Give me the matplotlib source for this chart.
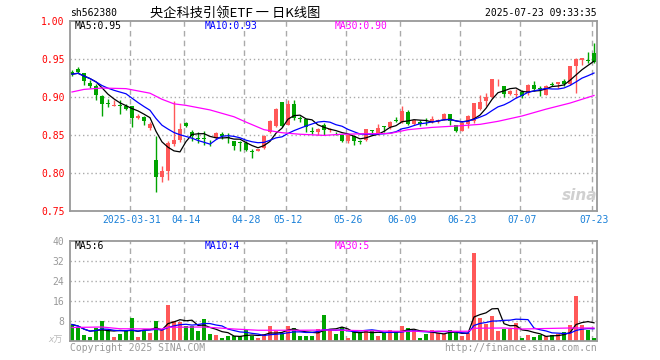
"""
Daily K-line chart for 央企科技引领ETF (sh562380), Sina finance style.
Price candles with MA5/MA10/MA30 on top, volume bars with MAs below.
"""

import numpy as np
import pandas as pd
import matplotlib
matplotlib.use('Agg')
import matplotlib.pyplot as plt

# ---- data ----
HOLIDAYS = ['2025-04-04', '2025-05-01', '2025-05-02', '2025-05-05', '2025-06-02']
DATES = [d for d in pd.bdate_range('2025-03-17', '2025-07-23')
         if d.strftime('%Y-%m-%d') not in HOLIDAYS]

OPEN = [0.9324, 0.9370, 0.9316, 0.9190, 0.9149, 0.9017, 0.8916, 0.8886, 0.8895, 0.8886,
        0.8886, 0.8730, 0.8737, 0.8592, 0.8175, 0.7942, 0.8021, 0.8380, 0.8429, 0.8657,
        0.8539, 0.8452, 0.8450, 0.8410, 0.8460, 0.8517, 0.8470, 0.8416, 0.8405, 0.8394,
        0.8288, 0.8293, 0.8329, 0.8535, 0.8614, 0.8929, 0.8636, 0.8912, 0.8715, 0.8710,
        0.8550, 0.8535, 0.8636, 0.8560, 0.8515, 0.8504, 0.8417, 0.8482, 0.8410, 0.8438,
        0.8556, 0.8517, 0.8613, 0.8600, 0.8694, 0.8671, 0.8802, 0.8649, 0.8671, 0.8673,
        0.8671, 0.8680, 0.8715, 0.8780, 0.8636, 0.8548, 0.8645, 0.8680, 0.8842, 0.8943,
        0.9000, 0.9195, 0.9149, 0.9040, 0.9030, 0.9070, 0.9052, 0.9162, 0.9110, 0.9022,
        0.9172, 0.9175, 0.9206, 0.9170, 0.9412, 0.9491, 0.9484, 0.9578]
HIGH = [0.9360, 0.9395, 0.9320, 0.9220, 0.9170, 0.9020, 0.8973, 0.8956, 0.8956, 0.8912,
        0.8886, 0.8776, 0.8746, 0.8667, 0.8490, 0.8087, 0.8425, 0.8950, 0.8657, 0.8666,
        0.8570, 0.8535, 0.8548, 0.8438, 0.8535, 0.8535, 0.8526, 0.8416, 0.8416, 0.8416,
        0.8316, 0.8320, 0.8504, 0.8692, 0.8855, 0.8929, 0.8964, 0.8964, 0.8745, 0.8710,
        0.8605, 0.8592, 0.8657, 0.8592, 0.8535, 0.8504, 0.8504, 0.8482, 0.8438, 0.8578,
        0.8561, 0.8649, 0.8622, 0.8679, 0.8737, 0.8877, 0.8833, 0.8701, 0.8692, 0.8724,
        0.8745, 0.8710, 0.8789, 0.8780, 0.8636, 0.8667, 0.8767, 0.8921, 0.9030, 0.9052,
        0.9240, 0.9237, 0.9149, 0.9096, 0.9100, 0.9090, 0.9175, 0.9215, 0.9140, 0.9162,
        0.9197, 0.9197, 0.9237, 0.9410, 0.9510, 0.9513, 0.9587, 0.9710]
LOW = [0.9270, 0.9316, 0.9162, 0.9120, 0.8965, 0.8750, 0.8870, 0.8877, 0.8776, 0.8825,
       0.8600, 0.8713, 0.8636, 0.8570, 0.7745, 0.7880, 0.7903, 0.8360, 0.8405, 0.8605,
       0.8416, 0.8394, 0.8370, 0.8360, 0.8452, 0.8447, 0.8394, 0.8307, 0.8285, 0.8294,
       0.8197, 0.8285, 0.8316, 0.8526, 0.8605, 0.8605, 0.8630, 0.8700, 0.8666, 0.8535,
       0.8517, 0.8504, 0.8504, 0.8535, 0.8504, 0.8403, 0.8394, 0.8364, 0.8386, 0.8416,
       0.8504, 0.8504, 0.8535, 0.8579, 0.8671, 0.8657, 0.8627, 0.8636, 0.8614, 0.8636,
       0.8657, 0.8658, 0.8702, 0.8627, 0.8539, 0.8548, 0.8592, 0.8658, 0.8833, 0.8877,
       0.8987, 0.9140, 0.9000, 0.9031, 0.8986, 0.8986, 0.9031, 0.9083, 0.9010, 0.9022,
       0.9140, 0.9118, 0.9140, 0.9162, 0.9050, 0.9425, 0.9447, 0.9447]
CLOSE = [0.9300, 0.9324, 0.9206, 0.9140, 0.9026, 0.8910, 0.8904, 0.8895, 0.8880, 0.8842,
         0.8719, 0.8750, 0.8680, 0.8649, 0.7947, 0.8021, 0.8400, 0.8438, 0.8583, 0.8622,
         0.8490, 0.8447, 0.8446, 0.8405, 0.8526, 0.8482, 0.8467, 0.8350, 0.8400, 0.8307,
         0.8283, 0.8320, 0.8491, 0.8679, 0.8846, 0.8614, 0.8912, 0.8723, 0.8710, 0.8605,
         0.8548, 0.8579, 0.8570, 0.8579, 0.8512, 0.8417, 0.8495, 0.8417, 0.8407, 0.8578,
         0.8552, 0.8592, 0.8609, 0.8671, 0.8690, 0.8811, 0.8644, 0.8692, 0.8640, 0.8669,
         0.8710, 0.8702, 0.8780, 0.8680, 0.8548, 0.8658, 0.8754, 0.8921, 0.8930, 0.8995,
         0.9240, 0.9199, 0.9040, 0.9074, 0.9040, 0.9012, 0.9162, 0.9105, 0.9105, 0.9149,
         0.9168, 0.9197, 0.9175, 0.9410, 0.9500, 0.9513, 0.9480, 0.9456]
VOLUME = [6.6, 5.4, 2.3, 1.5, 5.2, 7.9, 3.9, 1.5, 2.7, 4.3,
          9.1, 1.6, 4.6, 3.1, 8.0, 4.8, 14.3, 8.0, 7.5, 5.9,
          5.9, 3.9, 8.7, 2.7, 2.3, 1.1, 1.9, 1.9, 1.9, 4.3,
          1.9, 1.1, 2.9, 5.9, 4.0, 3.2, 5.9, 5.4, 1.9, 1.9,
          2.1, 5.0, 10.3, 4.3, 2.7, 5.6, 1.2, 3.6, 3.6, 4.3,
          4.0, 1.9, 3.2, 4.3, 4.0, 5.9, 5.1, 4.3, 1.1, 2.9,
          4.3, 3.2, 2.7, 4.3, 3.2, 1.9, 3.3, 35.3, 9.1, 6.7,
          9.9, 3.9, 5.0, 5.0, 7.2, 1.1, 2.3, 1.6, 2.3, 1.9,
          2.3, 2.7, 3.5, 6.3, 18.1, 6.3, 4.6, 1.1]

MA30_IDX = [0, 2, 5, 9, 11, 13, 15, 17, 19, 23, 27, 29, 32, 35, 38, 42, 45, 48,
            53, 56, 60, 65, 68, 71, 75, 79, 83, 87]
MA30_VAL = [0.9066, 0.9100, 0.9118, 0.9110, 0.9080, 0.9050, 0.8970, 0.8910, 0.8890,
            0.8830, 0.8740, 0.8670, 0.8570, 0.8530, 0.8510, 0.8495, 0.8510, 0.8515,
            0.8520, 0.8570, 0.8600, 0.8623, 0.8640, 0.8680, 0.8750, 0.8840, 0.8920, 0.9020]
VOL_MA30_IDX = [0, 5, 8, 15, 16, 22, 27, 31, 38, 43, 54, 66, 67, 72, 75, 83, 87]
VOL_MA30_VAL = [5.4, 5.6, 4.9, 4.8, 5.5, 5.6, 4.8, 4.3, 4.3, 4.4, 3.9, 3.9, 5.1,
                5.2, 4.8, 5.2, 5.2]

TICK_DATES = ['2025-03-31', '2025-04-14', '2025-04-28', '2025-05-12', '2025-05-26',
              '2025-06-09', '2025-06-23', '2025-07-07', '2025-07-23']
PRICE_TICKS = [0.75, 0.80, 0.85, 0.90, 0.95, 1.00]
VOL_TICKS = [8, 16, 24, 32, 40]

# ---- style ----
RED = '#ff5858'
GREEN = '#00a400'
GRID = '#aaaaaa'
BORDER = '#999999'
DATE_BLUE = '#1a80d8'
MONO = 'DejaVu Sans Mono'
CJK = ['Noto Sans CJK SC', 'DejaVu Sans']
FS = 7

W, H = 660, 360


def box(left, top, right, bottom):
    return [left / W, 1 - bottom / H, (right - left) / W, (bottom - top) / H]


def ptext(x, y, s, **kw):
    kw.setdefault('family', MONO)
    kw.setdefault('fontsize', FS)
    kw.setdefault('va', 'center')
    fig.text(x / W, 1 - y / H, s, **kw)


fig = plt.figure(figsize=(W / 100, H / 100), dpi=100)
ax = fig.add_axes(box(70, 21, 597, 211))
axv = fig.add_axes(box(70, 241, 597, 341))

x = np.arange(len(CLOSE))
o, hi, lo, c = (np.array(a) for a in (OPEN, HIGH, LOW, CLOSE))
vol = np.array(VOLUME)
colors = np.where(c >= o, RED, GREEN)

date_str = [d.strftime('%Y-%m-%d') for d in DATES]
tick_pos = [date_str.index(d) for d in TICK_DATES]
tick_lbl = [TICK_DATES[0]] + [d[5:] for d in TICK_DATES[1:]]

for a in (ax, axv):
    a.set_xlim(-0.33, len(CLOSE) - 0.5)
    for p in tick_pos:
        a.axvline(p - 0.3, color=GRID, lw=1, ls=(0, (4, 3)), zorder=0)
    for s in a.spines.values():
        s.set_color(BORDER)
        s.set_linewidth(1.3)
    a.tick_params(length=0)

# price panel
ax.set_ylim(0.75, 1.00)
for yv in PRICE_TICKS[1:-1]:
    ax.axhline(yv, color=GRID, lw=1, ls=(0, (1, 2)), zorder=0)
ax.vlines(x, lo, hi, colors=colors, lw=1, zorder=2)
body_h = np.abs(c - o)
small = body_h < 0.0012
body_bot = np.where(small, (c + o) / 2 - 0.0006, np.minimum(o, c))
body_h = np.where(small, 0.0012, body_h)
ax.bar(x, body_h, bottom=body_bot, width=0.75, color=colors, lw=0, zorder=2)

ma5 = pd.Series(c).rolling(5, min_periods=1).mean()
ma10 = pd.Series(c).rolling(10, min_periods=1).mean()
ax.plot(x, ma5, color='black', lw=0.9, zorder=3)
ax.plot(x, ma10, color='#0000ff', lw=0.9, zorder=3)
ax.plot(MA30_IDX, MA30_VAL, color='#ff00ff', lw=0.9, zorder=3)

ax.set_yticks(PRICE_TICKS)
ax.set_yticklabels([f'{v:.2f}' for v in PRICE_TICKS], color='#ff0000',
                   family=MONO, fontsize=FS)
ax.set_xticks(tick_pos)
ax.set_xticklabels(tick_lbl, color=DATE_BLUE, family=MONO, fontsize=FS)
ax.tick_params(axis='y', pad=4)
ax.tick_params(axis='x', pad=3)

# volume panel
axv.set_ylim(0, 40)
for yv in VOL_TICKS[:-1]:
    axv.axhline(yv, color=GRID, lw=1, ls=(0, (1, 2)), zorder=0)
axv.bar(x, vol, width=0.8, color=colors, lw=0, zorder=2)
vma5 = pd.Series(vol).rolling(5, min_periods=1).mean()
vma10 = pd.Series(vol).rolling(10, min_periods=1).mean()
axv.plot(x, vma5, color='black', lw=0.9, zorder=3)
axv.plot(x, vma10, color='#0000ff', lw=0.9, zorder=3)
axv.plot(VOL_MA30_IDX, VOL_MA30_VAL, color='#ff00ff', lw=0.9, zorder=3)
axv.set_yticks(VOL_TICKS)
axv.set_yticklabels([str(v) for v in VOL_TICKS], color=BORDER,
                    family=MONO, fontsize=FS)
axv.set_xticks([])
axv.tick_params(axis='y', pad=4)

# header and labels
ptext(70, 13, 'sh562380', color='black')
ptext(150, 13, '央企科技引领ETF 一 日K线图', family=CJK, fontsize=9.5, color='black')
ptext(597, 13, '2025-07-23 09:33:35', ha='right', color='black')

ptext(75, 26, 'MA5:0.95', color='black')
ptext(205, 26, 'MA10:0.93', color='#0000ff')
ptext(335, 26, 'MA30:0.90', color='#ff00ff')

ptext(75, 246, 'MA5:6', color='black')
ptext(205, 246, 'MA10:4', color='#0000ff')
ptext(335, 246, 'MA30:5', color='#ff00ff')

ptext(48, 340, 'x万', family=[MONO, 'Noto Sans CJK SC'], color='#bbbbbb',
      fontsize=6.5, style='italic')
ptext(70, 348, 'Copyright 2025 SINA.COM', color=BORDER)
ptext(597, 348, 'http://finance.sina.com.cn', ha='right', color=BORDER)

# watermark
ptext(580, 196, 'sina', ha='center', color='#d0d0d0', fontsize=11,
      family='DejaVu Sans', weight='bold', style='italic')

fig.savefig('out.png', dpi=100)
